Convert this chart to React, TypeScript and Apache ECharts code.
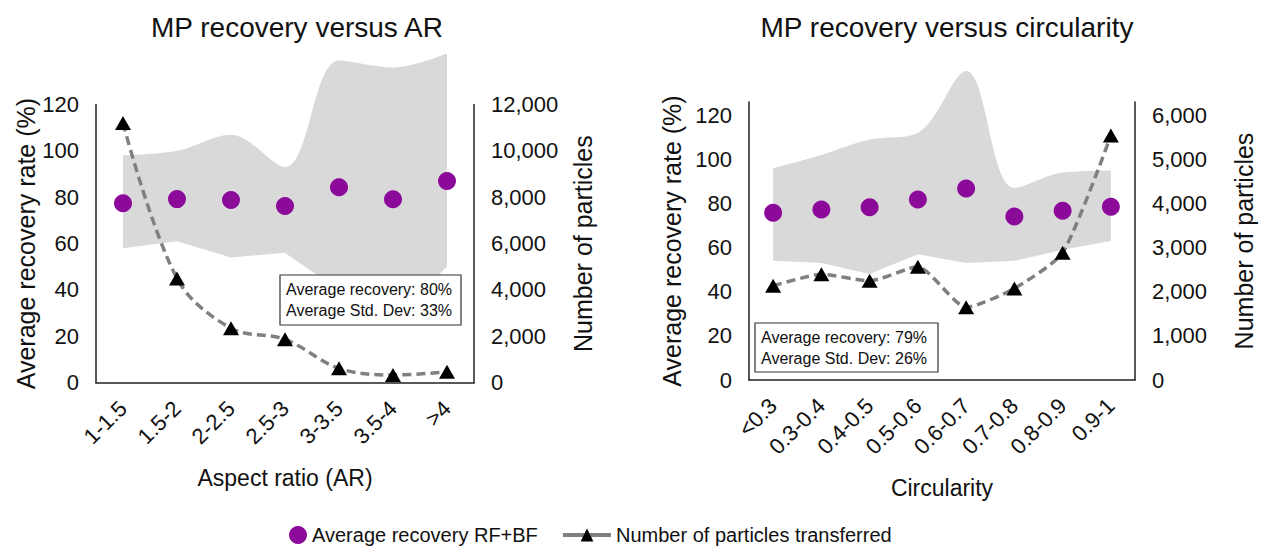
import React, { useEffect, useRef } from 'react';
import * as echarts from 'echarts';

const arCategories = ['1-1.5', '1.5-2', '2-2.5', '2.5-3', '3-3.5', '3.5-4', '>4'];
const arRecovery = [77.4, 79.2, 78.8, 76.2, 84.3, 79.1, 87.0];
const arUpper = [98, 100, 107, 93, 139, 136, 142];
const arLower = [58, 61, 54, 56, 40, 28, 50];
const arParticles = [11200, 4500, 2350, 1870, 620, 330, 470];

const circCategories = ['<0.3', '0.3-0.4', '0.4-0.5', '0.5-0.6', '0.6-0.7', '0.7-0.8', '0.8-0.9', '0.9-1'];
const circRecovery = [75.8, 77.3, 78.3, 81.8, 86.8, 74.1, 76.7, 78.5];
const circUpper = [96, 102, 109, 112, 140, 87, 94, 95];
const circLower = [54, 53, 48, 57, 53, 54, 59, 63];
const circParticles = [2135, 2394, 2249, 2566, 1646, 2076, 2883, 5541];

const recName = 'Average recovery RF+BF';
const partName = 'Number of particles transferred';
const boxAR = ['Average recovery: 80%', 'Average Std. Dev: 33%'];
const boxCirc = ['Average recovery: 79%', 'Average Std. Dev: 26%'];

const FONT = '"Liberation Sans", Arial, sans-serif';
const PURPLE = '#8b0a99';
const BAND = '#d9d9d9';
const LINE = '#808080';
const TXT = '#111';

const fmt = (v: number) => v.toLocaleString('en-US');

function bandSeries(idx: number, lower: number[], upper: number[]) {
  return [
    {
      type: 'line', xAxisIndex: idx, yAxisIndex: idx * 2, stack: 'band' + idx,
      data: lower, symbol: 'none', lineStyle: { opacity: 0 }, silent: true, clip: false, z: 1,
    },
    {
      type: 'line', xAxisIndex: idx, yAxisIndex: idx * 2, stack: 'band' + idx,
      data: upper.map((u, i) => u - lower[i]), symbol: 'none', smooth: 0.35,
      lineStyle: { opacity: 0 }, areaStyle: { color: BAND, opacity: 1 }, silent: true, clip: false, z: 1,
    },
  ];
}

export default function App() {
  const ref = useRef<HTMLDivElement>(null);
  useEffect(() => {
    if (!ref.current) return;
    const chart = echarts.init(ref.current, undefined, { renderer: 'svg' });
    const catAxis = (gridIndex: number, data: string[], name: string, nameGap: number) => ({
      type: 'category', gridIndex, data, boundaryGap: true,
      axisLine: { lineStyle: { color: '#222', width: 1.5 } },
      axisTick: { show: false },
      axisLabel: { rotate: 45, fontSize: 22, color: TXT, fontFamily: FONT, margin: 22, padding: [8, 0, 0, 0], interval: 0 },
      name, nameLocation: 'middle', nameGap,
      nameTextStyle: { fontSize: 23, color: TXT, fontFamily: FONT },
    });
    const valAxis = (gridIndex: number, position: string, max: number, interval: number, name: string, nameGap: number, thousands: boolean) => ({
      type: 'value', gridIndex, position, min: 0, max, interval,
      splitLine: { show: false },
      axisLine: { show: true, lineStyle: { color: '#222', width: 1.5 } },
      axisTick: { show: false },
      axisLabel: {
        fontSize: 22, color: TXT, fontFamily: FONT, margin: 17, showMaxLabel: max % interval === 0,
        formatter: (v: number) => (v % interval === 0 ? (thousands ? fmt(v) : String(v)) : ''),
      },
      name, nameLocation: 'middle', nameGap, nameRotate: 90,
      nameTextStyle: { fontSize: 25, color: TXT, fontFamily: FONT },
    });
    const box = (x: number, y: number, w: number, h: number, lines: string[]) => ({
      type: 'group', x, y,
      children: [
        { type: 'rect', shape: { x: 0, y: 0, width: w, height: h }, style: { fill: '#fff', stroke: '#333', lineWidth: 1.2 }, z: 10 },
        { type: 'text', x: 6, y: 4, style: { text: lines.join('\n'), font: `16px ${FONT}`, fill: TXT, lineHeight: 21 }, z: 11 },
      ],
    });
    chart.setOption({
      animation: false,
      textStyle: { fontFamily: FONT },
      title: [
        { text: 'MP recovery versus AR', left: 292, top: 8, textAlign: 'center', textStyle: { fontSize: 28, fontWeight: 'normal', color: TXT, fontFamily: FONT } },
        { text: 'MP recovery versus circularity', left: 942, top: 8, textAlign: 'center', textStyle: { fontSize: 28, fontWeight: 'normal', color: TXT, fontFamily: FONT } },
      ],
      legend: [
        { data: [recName], left: 284, top: 520, itemWidth: 18, itemHeight: 18, itemGap: 6, textStyle: { fontSize: 20, color: TXT, fontFamily: FONT } },
        { data: [partName], left: 556, top: 520, itemWidth: 48, itemHeight: 16, lineStyle: { type: 'solid', width: 4, color: LINE }, textStyle: { fontSize: 20, color: TXT, fontFamily: FONT } },
      ],
      grid: [
        { left: 96, top: 104.5, width: 378, height: 278.2 },
        { left: 749, top: 102, width: 386, height: 278 },
      ],
      xAxis: [
        catAxis(0, arCategories, 'Aspect ratio (AR)', 84),
        catAxis(1, circCategories, 'Circularity', 96),
      ],
      yAxis: [
        valAxis(0, 'left', 120, 20, 'Average recovery rate (%)', 55, false),
        valAxis(0, 'right', 12000, 2000, 'Number of particles', 96, true),
        valAxis(1, 'left', 126, 20, 'Average recovery rate (%)', 65, false),
        valAxis(1, 'right', 6300, 1000, 'Number of particles', 96, true),
      ],
      series: [
        ...bandSeries(0, arLower, arUpper),
        ...bandSeries(1, circLower, circUpper),
        {
          name: partName, type: 'line', xAxisIndex: 0, yAxisIndex: 1, data: arParticles, smooth: 0.35,
          symbol: 'triangle', symbolSize: [16, 14], itemStyle: { color: '#000' },
          lineStyle: { color: LINE, width: 3.5, type: [9, 5] }, z: 3,
        },
        {
          name: partName, type: 'line', xAxisIndex: 1, yAxisIndex: 3, data: circParticles, smooth: 0.2,
          symbol: 'triangle', symbolSize: [16, 14], itemStyle: { color: '#000' },
          lineStyle: { color: LINE, width: 3.5, type: [9, 5] }, z: 3,
        },
        {
          name: recName, type: 'scatter', xAxisIndex: 0, yAxisIndex: 0, data: arRecovery,
          symbol: 'circle', symbolSize: 18, itemStyle: { color: PURPLE, opacity: 1 }, z: 4,
        },
        {
          name: recName, type: 'scatter', xAxisIndex: 1, yAxisIndex: 2, data: circRecovery,
          symbol: 'circle', symbolSize: 18, itemStyle: { color: PURPLE, opacity: 1 }, z: 4,
        },
      ],
      graphic: [box(280, 275, 181, 50, boxAR), box(755, 323, 183, 49, boxCirc)],
    });
    return () => chart.dispose();
  }, []);
  return <div ref={ref} style={{ position: 'fixed', left: 0, top: 0, width: 1261, height: 548, background: '#fff' }} />;
}
